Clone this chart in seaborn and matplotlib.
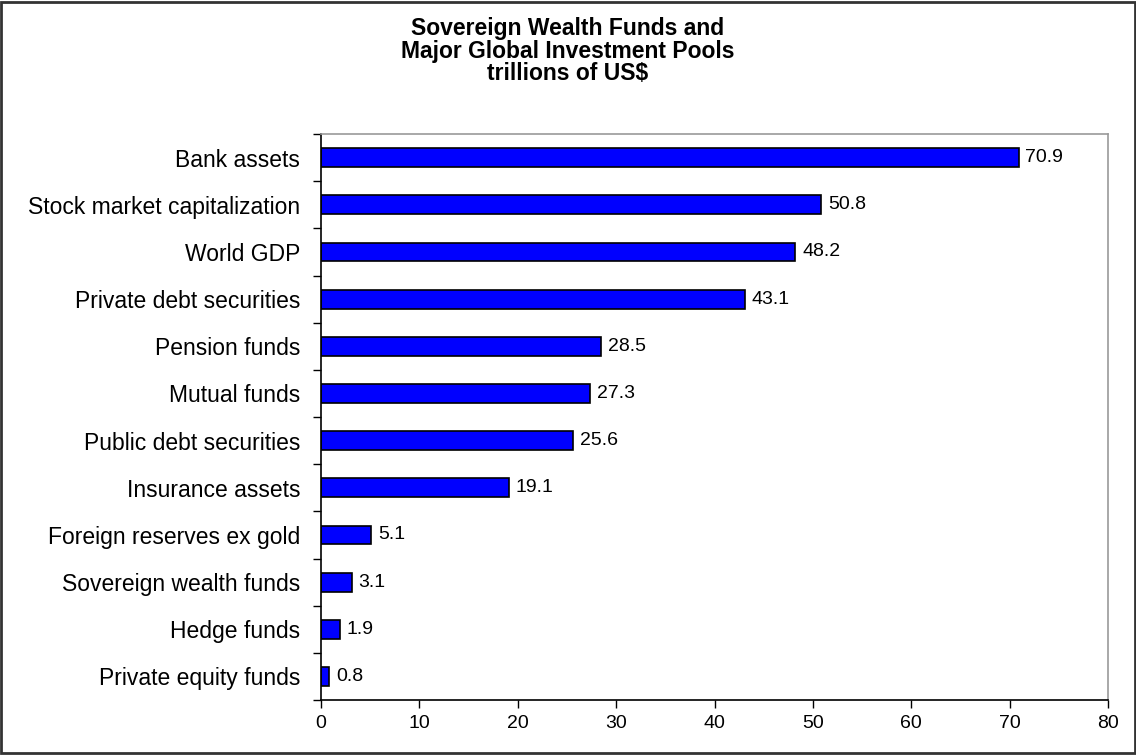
import matplotlib
matplotlib.use('Agg')
import matplotlib.pyplot as plt
import numpy as np
import pandas as pd
import seaborn as sns
from matplotlib.patches import Rectangle

categories = [
    'Bank assets',
    'Stock market capitalization',
    'World GDP',
    'Private debt securities',
    'Pension funds',
    'Mutual funds',
    'Public debt securities',
    'Insurance assets',
    'Foreign reserves ex gold',
    'Sovereign wealth funds',
    'Hedge funds',
    'Private equity funds',
]
values = [70.9, 50.8, 48.2, 43.1, 28.5, 27.3, 25.6, 19.1, 5.1, 3.1, 1.9, 0.8]
x_ticks = [0, 10, 20, 30, 40, 50, 60, 70, 80]

df = pd.DataFrame({'category': categories, 'value': values})

sns.set_theme(style='white')
plt.rcParams['font.family'] = ['Liberation Sans', 'DejaVu Sans']
plt.rcParams['text.color'] = 'black'

fig = plt.figure(figsize=(11.36, 7.55), dpi=100)
ax = fig.add_axes([0.2826, 0.0728, 0.6928, 0.7497])

sns.barplot(data=df, x='value', y='category', orient='h', color='#0000FF',
            saturation=1, edgecolor='black', linewidth=1.2, width=0.4, ax=ax)

for c in ax.containers:
    ax.bar_label(c, labels=[f'{v:.1f}' for v in values], padding=5, fontsize=14, color='black')

ax.set_xlim(0, 80)
ax.set_ylim(len(categories) - 0.5, -0.5)
ax.set_xticks(x_ticks)
ax.set_yticks(np.arange(len(categories) + 1) - 0.5, minor=True)
ax.tick_params(axis='y', which='major', length=0, labelsize=16.5, pad=15, labelcolor='black')
ax.tick_params(axis='y', which='minor', length=6, width=1, color='black', direction='out', left=True)
ax.tick_params(axis='x', which='major', length=6, width=1, color='black', direction='out',
               bottom=True, labelsize=14, pad=5, labelcolor='black')
ax.set_xlabel('')
ax.set_ylabel('')

for side in ['left', 'bottom']:
    ax.spines[side].set_color('black')
    ax.spines[side].set_linewidth(1.2)
for side in ['top', 'right']:
    ax.spines[side].set_color('#999999')
    ax.spines[side].set_linewidth(1.2)

fig.text(0.5, 0.977, 'Sovereign Wealth Funds and\nMajor Global Investment Pools\ntrillions of US$',
         ha='center', va='top', fontsize=16.5, fontweight='bold', linespacing=0.97,
         color='black')

fig.patches.append(Rectangle((0.001, 0.002), 0.998, 0.996, transform=fig.transFigure,
                             fill=False, edgecolor='#333333', linewidth=2))

fig.savefig('out.png', dpi=100)
